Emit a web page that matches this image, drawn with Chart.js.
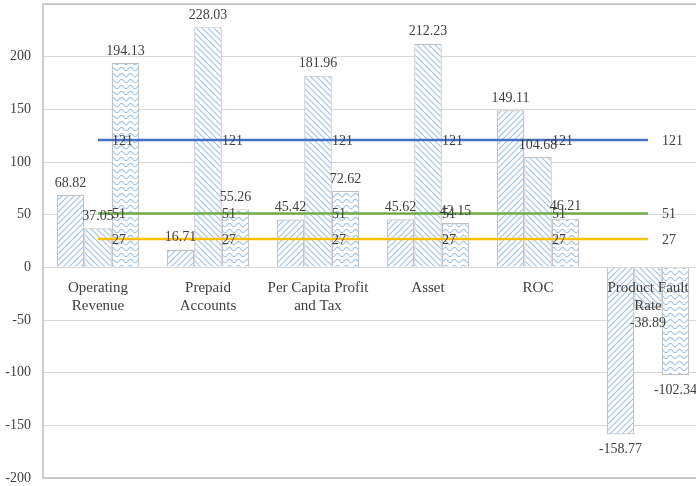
<!DOCTYPE html>
<html>
<head>
<meta charset="utf-8">
<script src="https://cdn.jsdelivr.net/npm/chart.js@4/dist/chart.umd.min.js"></script>
<style>
  html, body { margin: 0; padding: 0; background: #fff; }
  #wrap { width: 696px; height: 486px; overflow: hidden; position: relative; }
  canvas { display: block; }
</style>
</head>
<body>
<div id="wrap"><canvas id="c" width="704" height="486"></canvas></div>
<script>
const categories = [
  ["Operating", "Revenue"],
  ["Prepaid", "Accounts"],
  ["Per Capita Profit", "and Tax"],
  ["Asset"],
  ["ROC"],
  ["Product Fault", "Rate"]
];
const series1 = [68.82, 16.71, 45.42, 45.62, 149.11, -158.77];
const series2 = [37.05, 228.03, 181.96, 212.23, 104.68, -38.89];
const series3 = [194.13, 55.26, 72.62, 42.15, 46.21, -102.34];
const lineBlue = [121, 121, 121, 121, 121, 121];
const lineGreen = [51, 51, 51, 51, 51, 51];
const lineYellow = [27, 27, 27, 27, 27, 27];
const yTicks = [-200, -150, -100, -50, 0, 50, 100, 150, 200];

const HATCH = '#9dc3e6';
const TEXT = '#404040';
const FONT = '"Liberation Serif", "Times New Roman", serif';

function makePattern(kind) {
  const t = document.createElement('canvas');
  let w = 6, h = 6;
  if (kind === 'wave') { w = 9; h = 6; }
  t.width = w; t.height = h;
  const c = t.getContext('2d');
  c.fillStyle = '#ffffff';
  c.fillRect(0, 0, w, h);
  c.strokeStyle = HATCH;
  c.lineWidth = 1.1;
  c.beginPath();
  if (kind === 'up') {
    c.moveTo(-1, h + 1); c.lineTo(w + 1, -1);
    c.moveTo(-1, 1); c.lineTo(1, -1);
    c.moveTo(w - 1, h + 1); c.lineTo(w + 1, h - 1);
  } else if (kind === 'down') {
    c.moveTo(-1, -1); c.lineTo(w + 1, h + 1);
    c.moveTo(w - 1, -1); c.lineTo(w + 1, 1);
    c.moveTo(-1, h - 1); c.lineTo(1, h + 1);
  } else {
    for (let x = 0; x <= w; x += 0.5) {
      const y = 3 + 1.6 * Math.cos((x / w) * Math.PI * 2);
      if (x === 0) c.moveTo(x, y); else c.lineTo(x, y);
    }
  }
  c.stroke();
  const ctx = document.getElementById('c').getContext('2d');
  return ctx.createPattern(t, 'repeat');
}

const barLabelPlugin = {
  id: 'barLabels',
  afterDatasetsDraw(chart) {
    const ctx = chart.ctx;
    ctx.save();
    ctx.font = '14px ' + FONT;
    ctx.fillStyle = TEXT;
    chart.data.datasets.forEach((ds, i) => {
      const meta = chart.getDatasetMeta(i);
      if (!meta.visible) return;
      meta.data.forEach((el, j) => {
        const v = ds.data[j];
        if (ds.type === 'bar') {
          ctx.textAlign = 'center';
          ctx.textBaseline = 'middle';
          ctx.fillText(String(v), el.x, v >= 0 ? el.y - 12 : el.y + 15);
        } else {
          ctx.textAlign = 'left';
          ctx.textBaseline = 'middle';
          ctx.fillText(String(v), el.x + 14, el.y + 1);
        }
      });
    });
    ctx.restore();
  }
};

const borderPlugin = {
  id: 'plotBorder',
  afterDraw(chart) {
    const a = chart.chartArea;
    const ctx = chart.ctx;
    ctx.save();
    ctx.strokeStyle = '#bfbfbf';
    ctx.lineWidth = 1.5;
    ctx.strokeRect(a.left, a.top, a.right - a.left, a.bottom - a.top);
    ctx.restore();
  }
};

const barCommon = { type: 'bar', borderColor: '#bfbfbf', borderWidth: 1.2, order: 2,
  barPercentage: 1.0, categoryPercentage: 0.75 };
const lineCommon = { type: 'line', borderWidth: 2.5, pointRadius: 0, order: 1, fill: false, tension: 0 };

new Chart(document.getElementById('c'), {
  data: {
    labels: categories,
    datasets: [
      Object.assign({ label: 'Series 1', data: series1, backgroundColor: makePattern('up') }, barCommon),
      Object.assign({ label: 'Series 2', data: series2, backgroundColor: makePattern('down') }, barCommon),
      Object.assign({ label: 'Series 3', data: series3, backgroundColor: makePattern('wave') }, barCommon),
      Object.assign({ label: 'Line 121', data: lineBlue, borderColor: '#4472c4' }, lineCommon),
      Object.assign({ label: 'Line 51', data: lineGreen, borderColor: '#70ad47' }, lineCommon),
      Object.assign({ label: 'Line 27', data: lineYellow, borderColor: '#ffc000' }, lineCommon)
    ]
  },
  options: {
    responsive: false,
    animation: false,
    layout: { padding: { top: 4, right: 1, bottom: 8, left: 0 } },
    plugins: { legend: { display: false }, tooltip: { enabled: false } },
    scales: {
      x: {
        position: { y: 0 },
        grid: { display: false, drawTicks: false },
        border: { display: true, color: '#d9d9d9', width: 1, z: 1 },
        afterFit(scale) { scale.paddingLeft = 0; scale.paddingRight = 0; scale.paddingTop = 0; scale.paddingBottom = 0; },
        ticks: { z: 1, color: TEXT, font: { family: FONT, size: 15, lineHeight: 1.2 }, padding: 12,
                 maxRotation: 0, autoSkip: false }
      },
      y: {
        min: -200, max: 250,
        afterBuildTicks(scale) { scale.ticks = yTicks.concat([250]).map(v => ({ value: v })); },
        afterFit(scale) { scale.width = 43; scale.paddingTop = 0; scale.paddingBottom = 0; },
        grid: { color: '#d9d9d9', lineWidth: 1, drawTicks: false },
        border: { display: false },
        ticks: { color: TEXT, font: { family: FONT, size: 14 }, padding: 12,
                 callback: (v) => (yTicks.includes(v) ? String(v) : '') }
      }
    }
  },
  plugins: [barLabelPlugin, borderPlugin]
});
</script>
</body>
</html>
